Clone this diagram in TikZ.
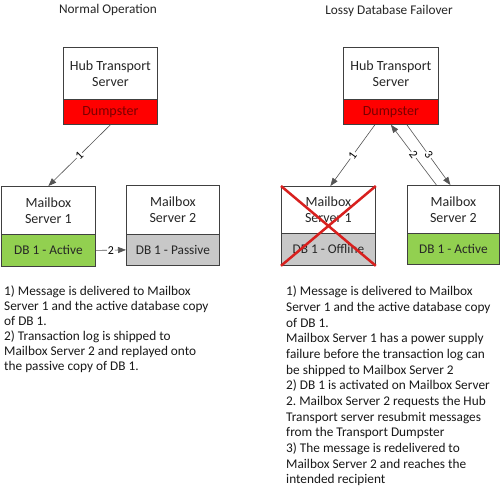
\documentclass[tikz,border=0pt]{standalone}
\usepackage{fontspec}
\setmainfont{Carlito}
\frenchspacing
\usetikzlibrary{arrows.meta,calc}
\definecolor{dumpred}{HTML}{FF0000}
\definecolor{dumptext}{HTML}{7A0000}
\definecolor{dbgreen}{HTML}{92D050}
\definecolor{dbgray}{HTML}{C8C8C8}
\definecolor{edgegray}{HTML}{404040}
\definecolor{linegray}{HTML}{555555}
\definecolor{crossred}{HTML}{D8201E}
\tikzset{
  x=1pt, y=-1pt,
  every node/.style={font=\fontsize{14}{16}\selectfont},
  srvtop/.style={draw=edgegray, line width=0.8pt, fill=white, anchor=north west, minimum width=#1, minimum height=52pt, inner sep=0pt, align=center, text=black!85, font=\fontsize{14}{16}\selectfont},
  srvbot/.style={draw=edgegray, line width=0.8pt, anchor=north west, minimum width=#1, inner sep=0pt, align=center, text=black!85, font=\fontsize{13.3}{16}\selectfont},
  flow/.style={draw=linegray, line width=0.6pt, -{Triangle[length=8pt,width=6pt]}, shorten >=0pt},
  flowlbl/.style={sloped, fill=white, inner sep=0.8pt, font=\fontsize{12}{12}\selectfont},
  title/.style={font=\fontsize{13.3}{15}\selectfont, text=black!85},
  para/.style={anchor=north west, align=left, text=black!90, inner sep=0pt}
}
\begin{document}
\begin{tikzpicture}
\useasboundingbox (0,0) rectangle (500,490);
\fill[white] (0,0) rectangle (500,490);

% Titles
\node[title] (tL) at (108,10) {Normal Operation};
\node[title] (tR) at (389,11) {Lossy Database Failover};

% Left: hub
\node[srvtop=94pt] (hubL) at (63,47) {Hub Transport\\Server};
\node[srvbot=94pt, minimum height=25pt, fill=dumpred, text=dumptext, font=\fontsize{14}{16}\selectfont] (dumpL) at (63,99) {Dumpster};
% Left: mailbox 1
\node[srvtop=94pt, minimum height=48pt] (mb1L) at (1,186) {Mailbox\\Server 1};
\node[srvbot=94pt, minimum height=32pt, fill=dbgreen] (db1L) at (1,234) {DB 1 - Active};
% Left: mailbox 2
\node[srvtop=93pt, minimum height=49pt] (mb2L) at (126,185) {Mailbox\\Server 2};
\node[srvbot=93pt, minimum height=31pt, fill=dbgray] (db2L) at (126,234) {DB 1 - Passive};

% Right: hub
\node[srvtop=95pt] (hubR) at (343,47) {Hub Transport\\Server};
\node[srvbot=95pt, minimum height=25pt, fill=dumpred, text=dumptext, font=\fontsize{14}{16}\selectfont] (dumpR) at (343,99) {Dumpster};
% Right: mailbox 1
\node[srvtop=94pt, minimum height=47pt] (mb1R) at (281,186) {Mailbox\\Server 1};
\node[srvbot=94pt, minimum height=32pt, fill=dbgray] (db1R) at (281,233) {DB 1 - Offline};
% Right: mailbox 2
\node[srvtop=92pt, minimum height=48pt] (mb2R) at (407,185) {Mailbox\\Server 2};
\node[srvbot=92pt, minimum height=31pt, fill=dbgreen] (db2R) at (407,233) {DB 1 - Active};

% Red cross
\draw[crossred, line width=2.5pt] (mb1R.north west) -- (db1R.south east);
\draw[crossred, line width=2.5pt] (mb1R.north east) -- (db1R.south west);

% Left arrows
\draw[flow] (dumpL.south) -- node[flowlbl]{1} (mb1L.north);
\draw[flow] (db1L.east) -- node[flowlbl]{2} (db2L.west);

% Right arrows
\draw[flow] ([xshift=-16pt]dumpR.south) -- node[flowlbl]{1} ([xshift=2pt]mb1R.north);
\draw[flow] ([xshift=-17pt]mb2R.north) -- node[flowlbl]{2} (dumpR.south);
\draw[flow] ([xshift=16pt]dumpR.south) -- node[flowlbl]{3} ([xshift=-3pt]mb2R.north);

% Paragraphs
\node[para, font=\fontsize{13.3}{15}\selectfont] (pL) at (4,286) {1) Message is delivered to Mailbox\\Server 1 and the active database copy\\of DB 1.\\2) Transaction log is shipped to\\Mailbox Server 2 and replayed onto\\the passive copy of DB 1.};
\node[para, font=\fontsize{13.3}{15.65}\selectfont] (pR) at (286,286) {1) Message is delivered to Mailbox\\Server 1 and the active database copy\\of DB 1.\\Mailbox Server 1 has a power supply\\failure before the transaction log can\\be shipped to Mailbox Server 2\\2) DB 1 is activated on Mailbox Server\\2. Mailbox Server 2 requests the Hub\\Transport server resubmit messages\\from the Transport Dumpster\\3) The message is redelivered to\\Mailbox Server 2 and reaches the\\intended recipient};
\end{tikzpicture}
\end{document}
